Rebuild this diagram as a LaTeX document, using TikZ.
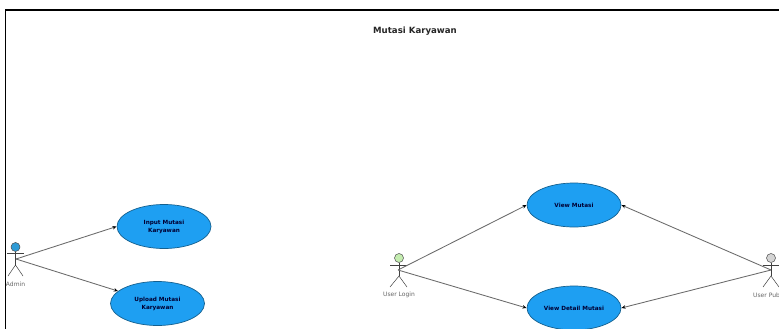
\documentclass[tikz,border=0pt]{standalone}
\usepackage{fontspec}
\setmainfont{DejaVu Sans}
\usetikzlibrary{shapes.geometric,arrows.meta}
\definecolor{ucblue}{HTML}{1E9FF2}
\definecolor{ucedge}{HTML}{14608F}
\definecolor{adminhead}{HTML}{2E9BD6}
\definecolor{loginhead}{HTML}{C4EDB0}
\definecolor{pubhead}{HTML}{D4D4D4}
\definecolor{linkgrey}{HTML}{6A6A6A}
\tikzset{
  usecase/.style={ellipse,draw=ucedge,line width=.7pt,fill=ucblue,minimum width=94pt,minimum height=44pt,inner sep=0pt,align=center,font=\fontsize{5.7}{8}\selectfont\bfseries,text=black!80!blue},
  actorhead/.style={circle,draw=black!70,line width=.5pt,minimum size=9pt,inner sep=0pt},
  actorlimb/.style={draw=black!75,line width=.5pt},
  actorname/.style={font=\fontsize{6}{7}\selectfont,text=black!60,inner sep=0pt},
  link/.style={draw=linkgrey,line width=.85pt,-{Stealth[length=4pt,width=3.5pt,black]},shorten >=.2pt},
  frameline/.style={draw=black,line width=1.6pt},
}
\begin{document}
\begin{tikzpicture}[x=1pt,y=-1pt]
\useasboundingbox (0,0) rectangle (779,329);
\fill[white] (0,0) rectangle (779,329);
\coordinate (frametl) at (5.5,10);
\coordinate (frametr) at (779,10);
\coordinate (framebl) at (5.5,329);
\draw[frameline] (framebl) -- (frametl) -- (frametr);
\node[font=\fontsize{8.6}{10}\selectfont\bfseries,text=black!85,inner sep=0pt] (title) at (415,31) {Mutasi Karyawan};

\node[usecase] (input) at (164,226.5) {Input Mutasi\\Karyawan};
\node[usecase] (upload) at (157.5,303.5) {Upload Mutasi\\Karyawan};
\node[usecase] (view) at (574,205) {View Mutasi};
\node[usecase] (detail) at (574,308) {View Detail Mutasi};

% Admin
\node[actorhead,fill=adminhead] (adminhead) at (15.5,247) {};
\coordinate (adminwaist) at (15.5,265);
\coordinate (adminhub) at (16,259);
\draw[actorlimb] (adminhead) -- (adminwaist);
\draw[actorlimb] (7,253) -- (24,253);
\draw[actorlimb] (8,276) -- (adminwaist) -- (23,276);
\node[actorname] (adminname) at (15.5,284) {Admin};

% User Login
\node[actorhead,fill=loginhead] (loginhead) at (399,258) {};
\coordinate (loginwaist) at (399,276);
\coordinate (loginhub) at (398,270);
\draw[actorlimb] (loginhead) -- (loginwaist);
\draw[actorlimb] (390,265) -- (407,265);
\draw[actorlimb] (390,287) -- (loginwaist) -- (407,287);
\node[actorname] (loginname) at (399,295) {User Login};

% User Pub
\node[actorhead,fill=pubhead] (pubhead) at (771,258) {};
\coordinate (pubwaist) at (771,276);
\coordinate (pubhub) at (771,270);
\draw[actorlimb] (pubhead) -- (pubwaist);
\draw[actorlimb] (763,265) -- (779,265);
\draw[actorlimb] (763,287) -- (pubwaist) -- (779,287);
\node[actorname,anchor=west] (pubname) at (753,295) {User Pub};

\draw[link] (adminhub) -- (input.west);
\draw[link] (adminhub) -- (upload);
\draw[link] (loginhub) -- (view.west);
\draw[link] (loginhub) -- (detail.west);
\draw[link] (pubhub) -- (view.east);
\draw[link] (pubhub) -- (detail.east);
\end{tikzpicture}
\end{document}
